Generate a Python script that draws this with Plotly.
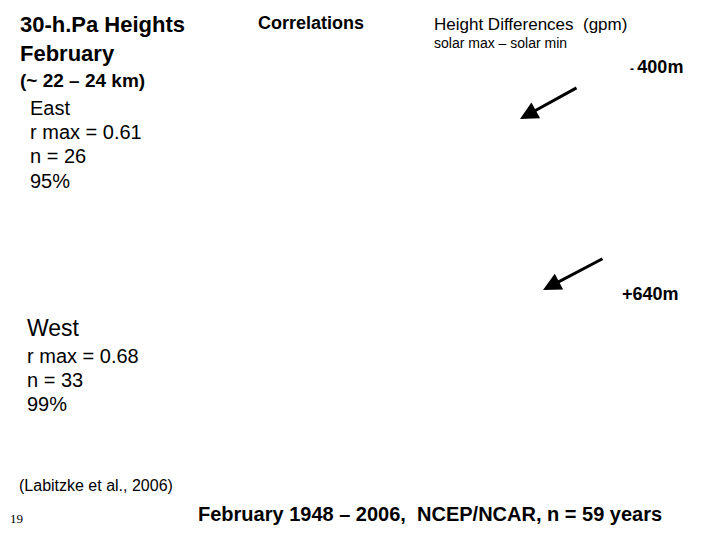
import plotly.graph_objects as go

# slide text: (text, x, y, size, bold, anchor)
labels = [
    ("30-h.Pa Heights", 20, 24, 22, True, "left"),
    ("February", 20, 53, 22, True, "left"),
    ("(~ 22 – 24 km)", 20, 80, 19, True, "left"),
    ("East", 30, 108, 20, False, "left"),
    ("r max = 0.61", 30, 132, 20, False, "left"),
    ("n = 26", 30, 156, 20, False, "left"),
    ("95%", 30, 181, 20, False, "left"),
    ("Correlations", 258, 23, 18, True, "left"),
    ("Height Differences  (gpm)", 434, 24, 17, False, "left"),
    ("solar max – solar min", 434, 43, 14, False, "left"),
    ("<span style='font-size:12px'>- </span>400m", 687, 67, 18, True, "right"),
    ("+640m", 683, 294, 18, True, "right"),
    ("West", 27, 328, 23, False, "left"),
    ("r max = 0.68", 27, 356, 20, False, "left"),
    ("n = 33", 27, 380, 20, False, "left"),
    ("99%", 27, 404, 20, False, "left"),
    ("(Labitzke et al., 2006)", 19, 485, 16, False, "left"),
    ("February 1948 – 2006,  NCEP/NCAR, n = 59 years", 198, 514, 20, True, "left"),
]

# arrows: tail (x, y) -> head (x, y)
arrow_tail_x = [580, 606]
arrow_tail_y = [87, 258]
arrow_head_x = [522, 545]
arrow_head_y = [119, 290]

# page offset of the figure inside the browser window
dx, dy = -10, -8

fig = go.Figure()

for text, x, y, size, bold, anchor in labels:
    fig.add_annotation(
        x=x + dx, y=y + dy, xref="x", yref="y", showarrow=False,
        text=f"<b>{text}</b>" if bold else text,
        xanchor=anchor, yanchor="middle",
        font=dict(family="Liberation Sans, Arial", size=size, color="black"),
    )

fig.add_annotation(
    x=10 + dx, y=518 + dy, xref="x", yref="y", showarrow=False, text="19",
    xanchor="left", yanchor="middle",
    font=dict(family="Liberation Serif, Times New Roman", size=13, color="black"),
)

for tx, ty, hx, hy in zip(arrow_tail_x, arrow_tail_y, arrow_head_x, arrow_head_y):
    fig.add_annotation(
        x=hx + dx, y=hy + dy, ax=tx + dx, ay=ty + dy,
        xref="x", yref="y", axref="x", ayref="y",
        text="", showarrow=True, arrowhead=2, arrowsize=1.2, arrowwidth=3,
        arrowcolor="black",
    )

fig.update_layout(
    width=720, height=540,
    margin=dict(l=0, r=0, t=0, b=0),
    paper_bgcolor="white", plot_bgcolor="white",
    xaxis=dict(range=[0, 720], visible=False),
    yaxis=dict(range=[540, 0], visible=False),
    showlegend=False,
)

fig.write_html("out.html")
